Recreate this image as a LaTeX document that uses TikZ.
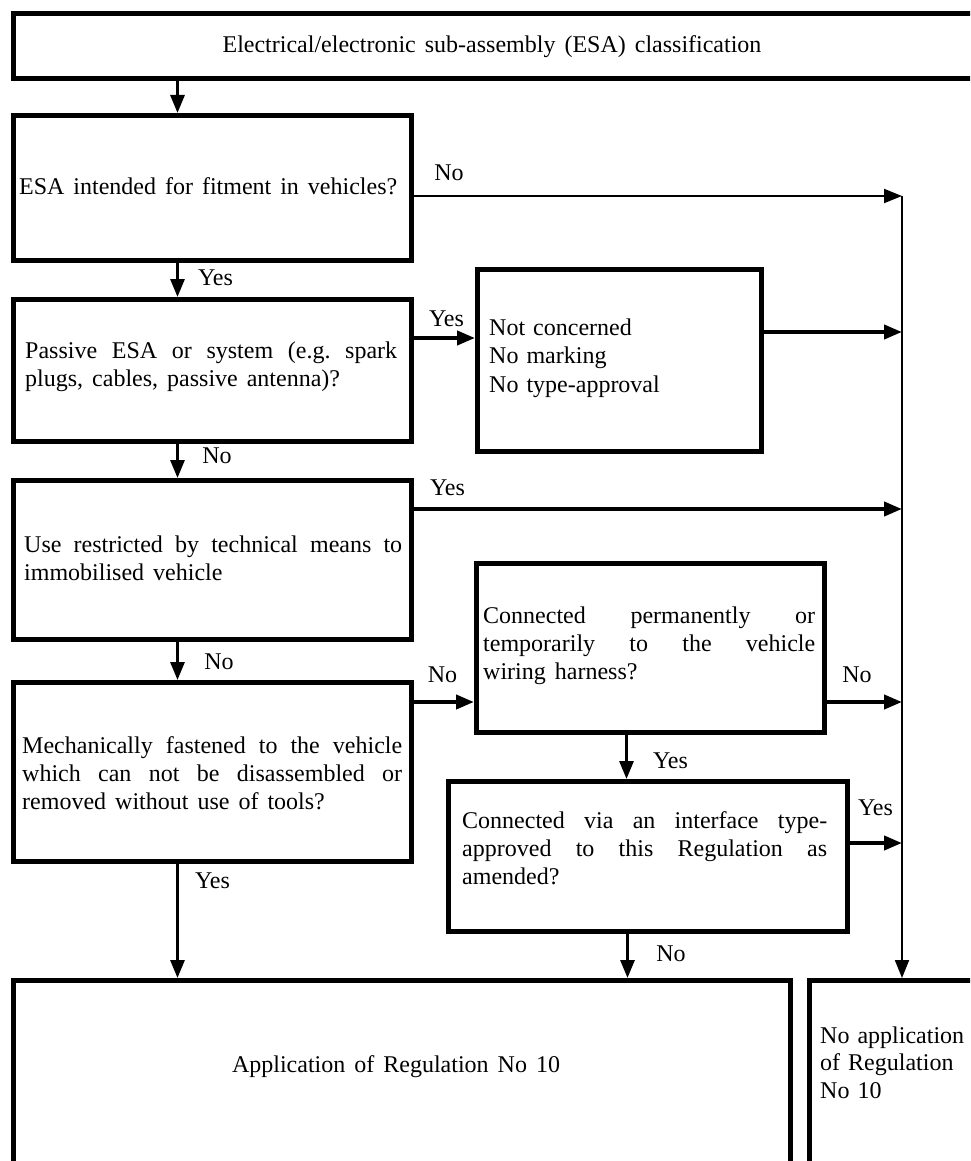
\documentclass[tikz,border=0pt]{standalone}
\usepackage{fontspec}
\setmainfont{Liberation Serif}[WordSpace=1.5]
\usetikzlibrary{arrows.meta}
\hyphenpenalty=10000
\exhyphenpenalty=0
\tolerance=10000
\hbadness=10000
\frenchspacing
\tikzset{
  box/.style={draw, line width=5pt, anchor=north west, inner sep=0pt},
  txt/.style={inner sep=0pt, font=\fontsize{24}{28}\selectfont, anchor=base west, align=justify},
  ltxt/.style={inner sep=0pt, anchor=base west, align=left},
  ctxt/.style={inner sep=0pt, font=\fontsize{24}{28}\selectfont, anchor=base},
  lab/.style={inner sep=0pt, font=\fontsize{24}{28}\selectfont, anchor=base},
  conn/.style={line width=3pt, -{Triangle[length=18pt,width=14pt]}},
  thinconn/.style={line width=2pt, -{Triangle[length=18pt,width=14pt]}},
  thickconn/.style={line width=4pt, -{Triangle[length=18pt,width=14pt]}}
}
\begin{document}
\begin{tikzpicture}[x=1pt,y=-1pt]
\useasboundingbox (0,0) rectangle (970,1161);
\clip (0,0) rectangle (970,1161);

% boxes
\node[box, minimum width=984pt, minimum height=65pt] (top) at (11,11) {};
\node[box, minimum width=398pt, minimum height=145pt] (b1) at (11,113) {};
\node[box, minimum width=398pt, minimum height=142pt] (b2) at (11,297) {};
\node[box, minimum width=284pt, minimum height=182pt] (b3) at (475,267) {};
\node[box, minimum width=398pt, minimum height=159pt] (b4) at (11,478) {};
\node[box, minimum width=398pt, minimum height=179pt] (b5) at (11,680) {};
\node[box, minimum width=348pt, minimum height=169pt] (b6) at (474,561) {};
\node[box, minimum width=399pt, minimum height=150pt] (b7) at (446,779) {};
\node[box, minimum width=777pt, minimum height=300pt] (b8) at (11,978) {};
\node[box, minimum width=300pt, minimum height=300pt] (b9) at (807,978) {};

% texts
\node[ctxt] (t0) at (492,53) {Electrical/electronic sub-assembly (ESA) classification};
\node[txt, text width=378pt] (t1) at (19,194) {ESA intended for fitment in vehicles?\par};
\node[txt, text width=372pt] (t2) at (25,358) {Passive ESA or system (e.g. spark\linebreak plugs, cables, passive antenna)?};
\node[ltxt, text width=250pt, font=\fontsize{24}{28.5}\selectfont] (t3) at (489,335) {Not concerned\\No marking\\No type-approval};
\node[txt, text width=378pt] (t4) at (24,552) {Use restricted by technical means to\linebreak immobilised vehicle};
\node[txt, text width=380pt] (t5) at (22,753) {Mechanically fastened to the vehicle\linebreak which can not be disassembled or\linebreak removed without use of tools?};
\node[txt, text width=332pt] (t6) at (483,623) {Connected permanently or\linebreak temporarily to the vehicle\linebreak wiring harness?};
\node[txt, text width=365pt] (t7) at (462,828) {Connected via an interface type-\linebreak approved to this Regulation as\linebreak amended?};
\node[ctxt] (t8) at (396,1072) {Application of Regulation No 10};
\node[ltxt, text width=200pt, font=\fontsize{24}{27.5}\selectfont] (t9) at (820,1043) {No application\\of Regulation\\No 10};

% helper coordinates
\coordinate (cx) at (177.5,0);
\coordinate (mx) at (626.5,0);
\coordinate (mx2) at (627.5,0);
\coordinate (j1) at (902,196);
\coordinate (y2) at (0,338);
\coordinate (j2) at (902,332);
\coordinate (j3) at (902,509);
\coordinate (y5) at (0,702);
\coordinate (j4) at (902,702);
\coordinate (j5) at (902,843);

% connectors
\draw[conn] (top.south -| cx) -- (b1.north -| cx);
\draw[thinconn] (b1.east |- j1) -- (j1);
\draw[thinconn] (j1) -- (j1 |- b9.north);
\draw[conn] (b1.south -| cx) -- (b2.north -| cx);
\draw[thickconn] (b2.east |- y2) -- (b3.west |- y2);
\draw[thickconn] (b3.east |- j2) -- (j2);
\draw[conn] (b2.south -| cx) -- (b4.north -| cx);
\draw[thickconn] (b4.east |- j3) -- (j3);
\draw[conn] (b4.south -| cx) -- (b5.north -| cx);
\draw[thickconn] (b5.east |- y5) -- (b6.west |- y5);
\draw[thickconn] (b6.east |- j4) -- (j4);
\draw[conn] (b6.south -| mx) -- (b7.north -| mx);
\draw[thickconn] (b7.east |- j5) -- (j5);
\draw[conn] (b7.south -| mx2) -- (b8.north -| mx2);
\draw[conn] (b5.south -| cx) -- (b8.north -| cx);

% labels
\node[lab] (l1) at (449,181) {No};
\node[lab] (l2) at (215.5,285) {Yes};
\node[lab] (l3) at (446.5,326) {Yes};
\node[lab] (l4) at (217,463) {No};
\node[lab] (l5) at (447.5,495) {Yes};
\node[lab] (l6) at (219,669) {No};
\node[lab] (l7) at (442.5,682) {No};
\node[lab] (l8) at (857,682) {No};
\node[lab] (l9) at (670.5,768) {Yes};
\node[lab] (l10) at (875.5,815) {Yes};
\node[lab] (l11) at (671,961) {No};
\node[lab] (l12) at (212.5,888) {Yes};
\end{tikzpicture}
\end{document}
